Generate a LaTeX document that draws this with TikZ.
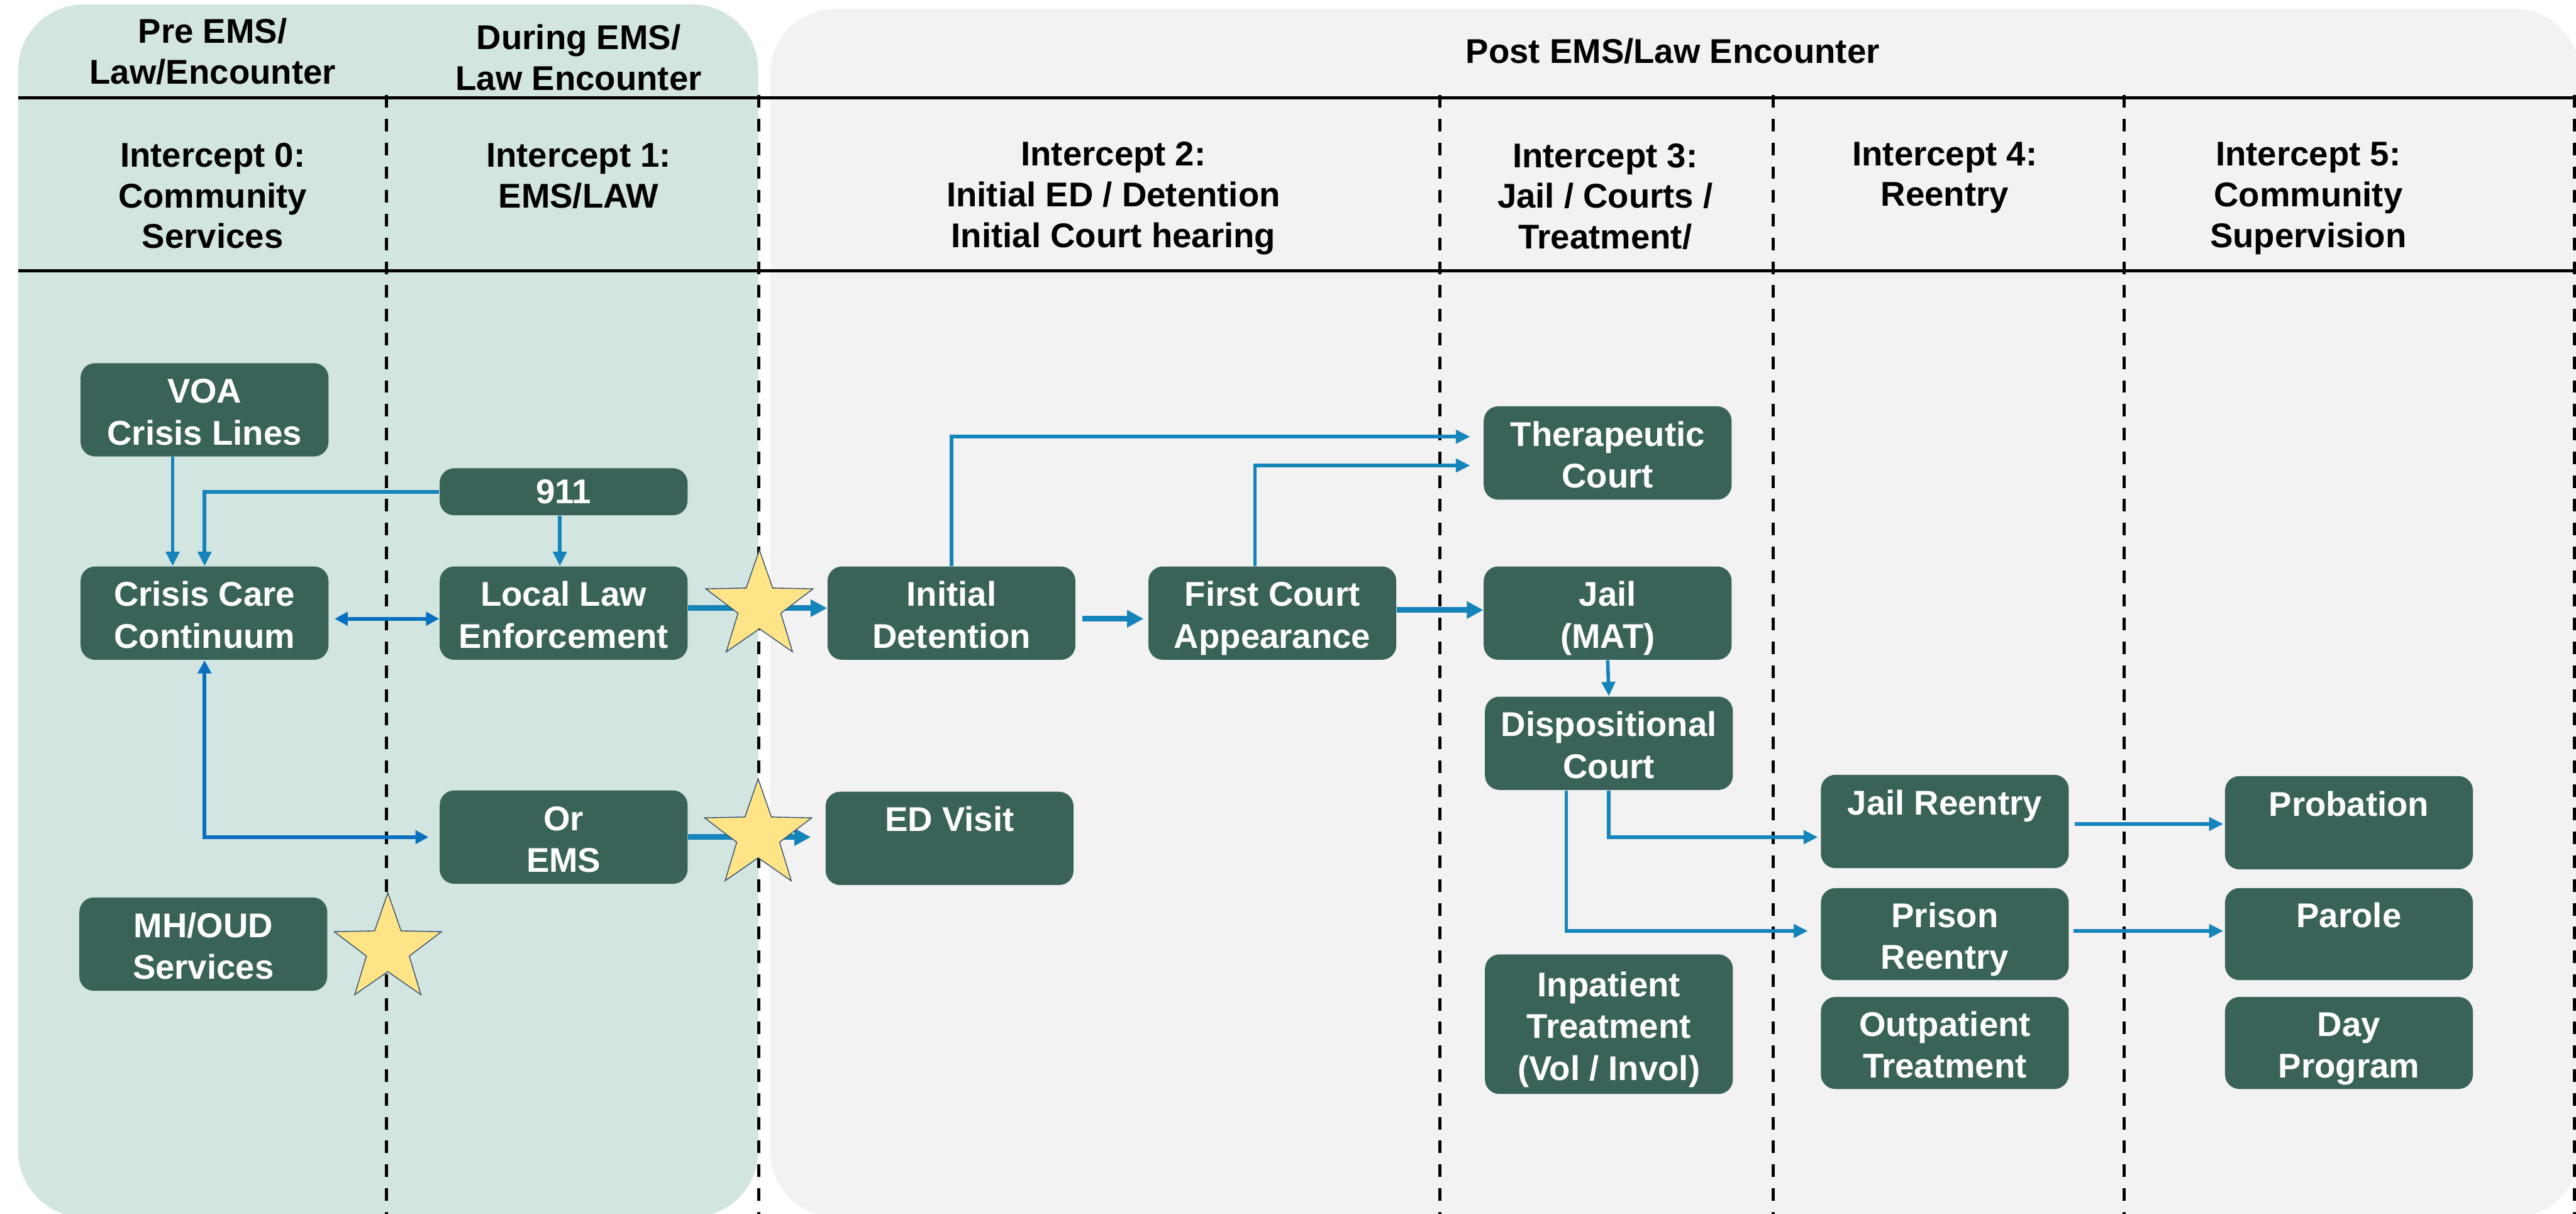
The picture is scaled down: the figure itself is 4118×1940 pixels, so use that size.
\documentclass[tikz,border=0pt]{standalone}
\usepackage{fontspec}
\setmainfont{Liberation Sans}
\usetikzlibrary{arrows.meta,shapes.geometric,calc}
\definecolor{tealbg}{RGB}{210,229,224}
\definecolor{graybg}{RGB}{242,242,242}
\definecolor{boxgreen}{RGB}{57,98,88}
\definecolor{arrowblue}{RGB}{20,132,186}
\definecolor{crisisblue}{RGB}{9,112,192}
\definecolor{starfill}{RGB}{255,227,135}
\definecolor{staredge}{RGB}{50,80,110}
\newcommand{\twol}[2]{\rule{0pt}{0.82em}#1\\\raisebox{0pt}[\height][0pt]{#2}}
\newcommand{\threel}[3]{\rule{0pt}{0.82em}#1\\#2\\\raisebox{0pt}[\height][0pt]{#3}}
\begin{document}
\begin{tikzpicture}[x=0.01cm,y=-0.01cm,
  box/.style={fill=boxgreen, rounded corners=0.23cm, text=white, align=center, inner sep=0pt,
    minimum width=3.96cm, minimum height=1.49cm, font=\fontsize{15.6}{19}\selectfont\bfseries},
  hdr/.style={text=black, align=center, inner sep=0pt, font=\fontsize{15.6}{18.5}\selectfont\bfseries},
  sepline/.style={black, line width=1.4pt},
  lane/.style={black, line width=1.4pt, dash pattern=on 5.7pt off 5.1pt},
  conn/.style={draw=arrowblue, line width=1.6pt, -{Triangle[length=6.5pt,width=6pt]}},
  bigconn/.style={draw=arrowblue, line width=2.5pt, -{Triangle[length=7.5pt,width=7.5pt]}},
  dconn/.style={draw=crisisblue, line width=1.6pt, {Triangle[length=6pt,width=6pt]}-{Triangle[length=6pt,width=6pt]}},
  starmark/.style={star, star points=5, star point ratio=2.5, minimum size=1.8cm, inner sep=0pt,
    fill=starfill, draw=staredge, line width=0.4pt}
]
\useasboundingbox (0,0) rectangle (4118,1940);
\clip (0,0) rectangle (4118,1940);
\fill[white] (0,0) rectangle (4118,1940);

% panels
\fill[tealbg, rounded corners=1.05cm] (29,7) rectangle (1212,1945);
\fill[graybg, rounded corners=1.05cm] (1231,14) rectangle (4124,1945);

% header rules
\draw[sepline] (29,156) -- (4118,156);
\draw[sepline] (29,433) -- (4118,433);

% lane separators
\foreach \lx in {618,1213,2302,2835,3396,4115}
  \draw[lane] (\lx,152) -- (\lx,1940);

% headers
\node[hdr] (hpre) at (340,82) {Pre EMS/\\Law/Encounter};
\node[hdr] (hdur) at (925,92) {During EMS/\\Law Encounter};
\node[hdr] (hpost) at (2674,82) {Post EMS/Law Encounter};
\node[hdr] (i0) at (340,313) {Intercept 0:\\Community\\Services};
\node[hdr] (i1) at (925,281) {Intercept 1:\\EMS/LAW};
\node[hdr] (i2) at (1780,317) {Intercept 2:\\Initial ED / Detention\\Initial Court hearing};
\node[hdr] (i3) at (2566,314) {Intercept 3:\\Jail / Courts /\\Treatment/};
\node[hdr] (i4) at (3109,284) {Intercept 4:\\Reentry};
\node[hdr] (i5) at (3690,317) {Intercept 5:\\Community\\Supervision};

% boxes
\node[box] (voa) at (327,655) {\twol{VOA}{Crisis Lines}};
\node[box, minimum height=0.75cm] (n911) at (901,786) {911};
\node[box] (ccc) at (327,980) {\twol{Crisis Care}{Continuum}};
\node[box] (lle) at (901,980) {\twol{Local Law}{Enforcement}};
\node[box] (ems) at (901,1338) {\twol{Or}{EMS}};
\node[box] (mh) at (325,1509) {\twol{MH/OUD}{Services}};
\node[box] (idet) at (1521,980) {\twol{Initial}{Detention}};
\node[box] (edv) at (1518,1340) {\twol{ED Visit}{}};
\node[box] (fca) at (2034,980) {\twol{First Court}{Appearance}};
\node[box] (ther) at (2570,724) {\twol{Therapeutic}{Court}};
\node[box] (jail) at (2570,980) {\twol{Jail}{(MAT)}};
\node[box] (disp) at (2572,1188) {\twol{Dispositional}{Court}};
\node[box, minimum height=2.23cm] (inpt) at (2572,1637) {\threel{Inpatient}{Treatment}{(Vol / Invol)}};
\node[box] (jre) at (3109,1313) {\twol{Jail Reentry}{}};
\node[box, minimum height=1.47cm] (pre) at (3109,1493) {\twol{Prison}{Reentry}};
\node[box, minimum height=1.47cm] (outp) at (3109,1667) {\twol{Outpatient}{Treatment}};
\node[box] (prob) at (3755,1315) {\twol{Probation}{}};
\node[box, minimum height=1.47cm] (par) at (3755,1493) {\twol{Parole}{}};
\node[box, minimum height=1.47cm] (day) at (3755,1667) {\twol{Day}{Program}};

% connectors
\draw[conn] ($(voa.south)+(-51,0)$) -- ($(ccc.north)+(-51,0)$);
\draw[conn] (n911.west) -| (ccc.north);
\draw[conn] ($(n911.south)+(-6,0)$) -- ($(lle.north)+(-6,0)$);
\draw[dconn] ($(ccc.east)+(9,9)$) -- ($(lle.west)+(0,9)$);
\draw[dconn] (ccc.south) |- ($(ems.west)+(-17,0)$);
\draw[bigconn] ($(lle.east)+(0,-8)$) -- ($(idet.west)+(0,-8)$);
\draw[bigconn] (ems.east) -- ($(edv.west)+(-23,-2)$);
\draw[conn] (idet.north) |- ($(ther.west)+(-21,-26)$);
\draw[conn] ($(fca.north)+(-28,0)$) |- ($(ther.west)+(-21,20)$);
\draw[bigconn] ($(idet.east)+(10,9)$) -- ($(fca.west)+(-7,9)$);
\draw[bigconn] ($(fca.east)+(0,-5)$) -- ($(jail.west)+(0,-5)$);
\draw[conn] (jail.south) -- (disp.north);
\draw[conn] (disp.south) |- ($(jre.west)+(-4,25)$);
\draw[conn] ($(disp.south)+(-68,0)$) |- ($(pre.west)+(-20,-5)$);
\draw[conn] ($(jre.east)+(9,4)$) -- ($(prob.west)+(-2,2)$);
\draw[conn] ($(pre.east)+(7,-5)$) -- ($(par.west)+(-2,-5)$);

% stars
\node[starmark] (st1) at (1214,969) {};
\node[starmark] (st2) at (1212,1335) {};
\node[starmark] (st3) at (620,1517) {};
\end{tikzpicture}
\end{document}
